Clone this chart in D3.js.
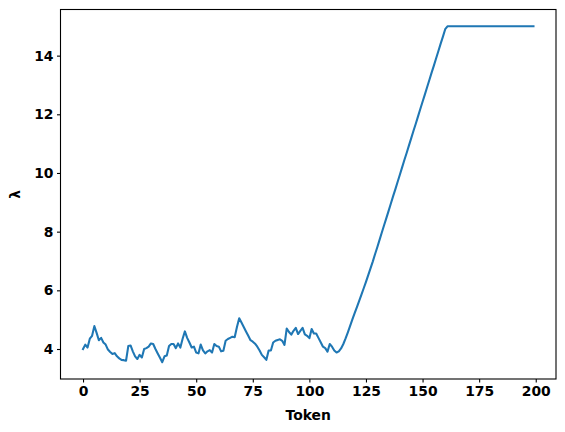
<!DOCTYPE html>
<html>
<head>
<meta charset="utf-8">
<script src="https://cdn.jsdelivr.net/npm/d3@7"></script>
<style>
  body { margin: 0; background: #fff; }
  text { font-family: "DejaVu Sans", sans-serif; font-weight: bold; }
</style>
</head>
<body>
<div id="chart"></div>
<script>
// lambda per token
var lambdaNoisy = [
  4.00, 4.15, 4.05, 4.35, 4.45, 4.78, 4.55, 4.30, 4.38, 4.22,
  4.15, 3.98, 3.90, 3.83, 3.86, 3.75, 3.68, 3.63, 3.62, 3.60,
  4.10, 4.12, 3.92, 3.75, 3.66, 3.80, 3.71, 4.00, 4.03, 4.08,
  4.19, 4.17, 4.00, 3.85, 3.70, 3.55, 3.75, 3.78, 4.10, 4.17,
  4.17, 4.03, 4.19, 4.05, 4.35, 4.60, 4.38, 4.22, 4.05, 4.08,
  3.88, 3.85, 4.15, 3.95, 3.85, 3.92, 3.96, 3.88, 4.17, 4.10,
  4.08, 3.92, 3.94, 4.28, 4.34, 4.38, 4.42, 4.40, 4.75, 5.05,
  4.90, 4.75, 4.60, 4.45, 4.30, 4.25, 4.18, 4.08, 3.95, 3.80,
  3.72, 3.63, 3.95, 3.95, 4.22, 4.28, 4.31, 4.33, 4.28, 4.14,
  4.70, 4.58, 4.49, 4.62, 4.72, 4.51, 4.62, 4.72, 4.50, 4.45,
  4.37, 4.68, 4.53, 4.53, 4.38, 4.23, 4.08, 4.03, 3.91, 4.17,
  4.08, 3.95
];
var lambdaRise = [
  3.88, 3.92, 4.02, 4.17, 4.36, 4.57, 4.79, 5.01, 5.22, 5.43,
  5.64, 5.85, 6.07, 6.29, 6.52, 6.75, 6.98, 7.23, 7.47, 7.72,
  7.97, 8.22, 8.46, 8.71, 8.96, 9.21, 9.45, 9.70, 9.95, 10.20,
  10.45, 10.69, 10.94, 11.19, 11.44, 11.68, 11.93, 12.18, 12.43, 12.67,
  12.92, 13.17, 13.42, 13.66, 13.91, 14.16, 14.41, 14.65, 14.90
];
var lambdaFlat = [
  15, 15, 15, 15, 15, 15, 15, 15, 15, 15,
  15, 15, 15, 15, 15, 15, 15, 15, 15, 15,
  15, 15, 15, 15, 15, 15, 15, 15, 15, 15,
  15, 15, 15, 15, 15, 15, 15, 15, 15
];
var lambdaValues = lambdaNoisy.concat(lambdaRise, lambdaFlat);

var xTicks = [0, 25, 50, 75, 100, 125, 150, 175, 200];
var yTicks = [4, 6, 8, 10, 12, 14];

var width = 565, height = 432;
var margin = { left: 60.5, right: 9, top: 9.5, bottom: 53 };

var svg = d3.select("#chart").append("svg")
  .attr("width", width)
  .attr("height", height);

var n = lambdaValues.length;
var ymin = d3.min(lambdaValues), ymax = d3.max(lambdaValues);
var xpad = (n - 1) * 0.05, ypad = (ymax - ymin) * 0.05;

var x = d3.scaleLinear()
  .domain([-xpad, n - 1 + xpad])
  .range([margin.left, width - margin.right]);

var y = d3.scaleLinear()
  .domain([ymin - ypad, ymax + ypad])
  .range([height - margin.bottom, margin.top]);

var line = d3.line()
  .x(function (d, i) { return x(i); })
  .y(function (d) { return y(d); });

svg.append("path")
  .datum(lambdaValues)
  .attr("fill", "none")
  .attr("stroke", "#1f77b4")
  .attr("stroke-width", 2.08)
  .attr("stroke-linejoin", "round")
  .attr("stroke-linecap", "square")
  .attr("d", line);

// axes, matplotlib look: ticks outwards, bold labels
var xAxis = svg.append("g")
  .attr("transform", "translate(0," + (height - margin.bottom) + ")")
  .call(d3.axisBottom(x).tickValues(xTicks).tickSize(3.5).tickPadding(3.5).tickSizeOuter(0));

var yAxis = svg.append("g")
  .attr("transform", "translate(" + margin.left + ",0)")
  .call(d3.axisLeft(y).tickValues(yTicks).tickSize(3.5).tickPadding(3.5).tickSizeOuter(0));

[xAxis, yAxis].forEach(function (g) {
  g.select(".domain").remove();
  g.selectAll(".tick line").attr("stroke", "#000").attr("stroke-width", 1.1);
  g.selectAll(".tick text")
    .attr("fill", "#000")
    .style("font-size", "13.9px")
    .style("font-weight", "bold");
});

// frame
svg.append("rect")
  .attr("x", margin.left)
  .attr("y", margin.top)
  .attr("width", width - margin.right - margin.left)
  .attr("height", height - margin.bottom - margin.top)
  .attr("fill", "none")
  .attr("stroke", "#000")
  .attr("stroke-width", 1.1);

svg.append("text")
  .attr("x", (margin.left + width - margin.right) / 2)
  .attr("y", 420)
  .attr("text-anchor", "middle")
  .style("font-size", "13.9px")
  .text("Token");

svg.append("text")
  .attr("transform", "translate(20," + ((margin.top + height - margin.bottom) / 2) + ") rotate(-90)")
  .attr("text-anchor", "middle")
  .style("font-size", "13.9px")
  .text("λ");
</script>
</body>
</html>
